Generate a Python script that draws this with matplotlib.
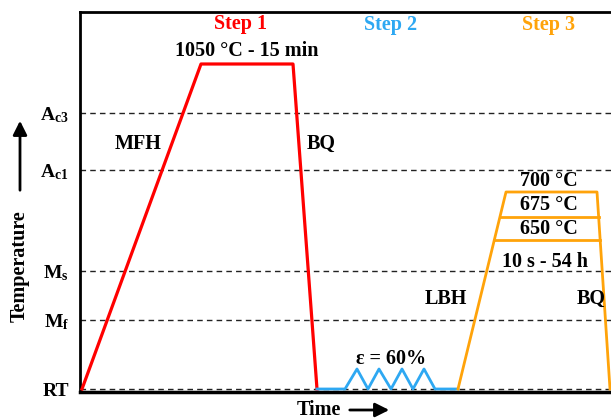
import matplotlib.pyplot as plt
import numpy as np

plt.rcParams['font.family'] = 'Liberation Serif'
plt.rcParams['font.weight'] = 'bold'
plt.rcParams['mathtext.fontset'] = 'custom'
plt.rcParams['mathtext.rm'] = 'Liberation Serif:bold'
plt.rcParams['mathtext.it'] = 'Liberation Serif:bold'

# critical temperature levels (arbitrary units)
levels = [3, 72, 121, 222, 279]
level_labels = ['RT', r'$\mathrm{M_f}$', r'$\mathrm{M_s}$', r'$\mathrm{A_{c1}}$', r'$\mathrm{A_{c3}}$']

# step 1: MFH -> hold 1050 C -> BQ
t1 = [2, 121, 213, 237]
T1 = [3, 328, 328, 3]

# step 2: rolling, eps = 60 %
t2 = [237, 265, 277, 288, 299, 311, 322, 333, 344, 355, 378]
T2 = [3, 3, 23, 3, 23, 3, 23, 3, 23, 3, 3]

# step 3: LBH -> hold 650/675/700 C -> BQ
t3 = [378, 426, 517, 530]
T3 = [3, 200, 200, 3]
hold_levels = [152, 175]

red = '#ff0000'
blue = '#2ea8f2'
orange = '#ffa30a'

fig = plt.figure(figsize=(6.11, 4.19), dpi=100)
ax = fig.add_axes([80 / 611, 27 / 419, 531 / 611, 380 / 419])
ax.set_xlim(0, 531)
ax.set_ylim(0, 380)

for y in levels:
    ax.axhline(y, color='#222222', lw=1, ls=(0, (4, 3)), zorder=1)

ax.plot(t1, T1, color=red, lw=2.3, zorder=3)
ax.plot(t2, T2, color=blue, lw=2, zorder=3)
ax.plot(t3, T3, color=orange, lw=2, zorder=3)
for h in hold_levels:
    xl = np.interp(h, T3[:2], t3[:2])
    xr = np.interp(h, T3[:1:-1], t3[:1:-1])
    ax.plot([xl, xr], [h, h], color=orange, lw=2, zorder=3)

ax.set_xticks([])
ax.set_yticks(levels)
ax.set_yticklabels(level_labels, fontsize=14, fontweight='bold')
ax.tick_params(axis='y', length=0, pad=8)

for s in ['left', 'top', 'bottom']:
    ax.spines[s].set_linewidth(2)
ax.spines['bottom'].set_linewidth(2.5)
ax.spines['right'].set_visible(False)

fs = 14.5
txt = dict(ha='center', va='center', fontsize=fs, fontweight='bold')
ax.text(160, 368, 'Step 1', color=red, **txt)
ax.text(311, 367, 'Step 2', color=blue, **txt)
ax.text(469, 367, 'Step 3', color=orange, **txt)
ax.text(167, 341, '1050 °C - 15 min', **txt)
ax.text(58, 248, 'MFH', **txt)
ax.text(241, 248, 'BQ', **txt)
ax.text(469, 211, '700 °C', **txt)
ax.text(469, 187, '675 °C', **txt)
ax.text(469, 163, '650 °C', **txt)
ax.text(465, 130, '10 s - 54 h', **txt)
ax.text(366, 93, 'LBH', **txt)
ax.text(511, 93, 'BQ', **txt)
ax.text(311, 33, 'ε = 60%', **txt)

# axis titles with arrows
fig.text(20 / 611, 1 - 266 / 419, 'Temperature', rotation=90, ha='center', va='center',
         fontsize=14.5, fontweight='bold')
fig.text(319 / 611, 1 - 410 / 419, 'Time', ha='center', va='center',
         fontsize=14.5, fontweight='bold')
arrow = dict(arrowstyle='-|>,head_length=0.6,head_width=0.3', color='black', lw=2)
fig.patches.append(plt.matplotlib.patches.FancyArrowPatch(
    (20 / 611, 1 - 193 / 419), (20 / 611, 1 - 118 / 419), transform=fig.transFigure,
    mutation_scale=14, **arrow))
fig.patches.append(plt.matplotlib.patches.FancyArrowPatch(
    (347 / 611, 1 - 410 / 419), (392 / 611, 1 - 410 / 419), transform=fig.transFigure,
    mutation_scale=14, **arrow))

fig.savefig('out.png', dpi=100)
